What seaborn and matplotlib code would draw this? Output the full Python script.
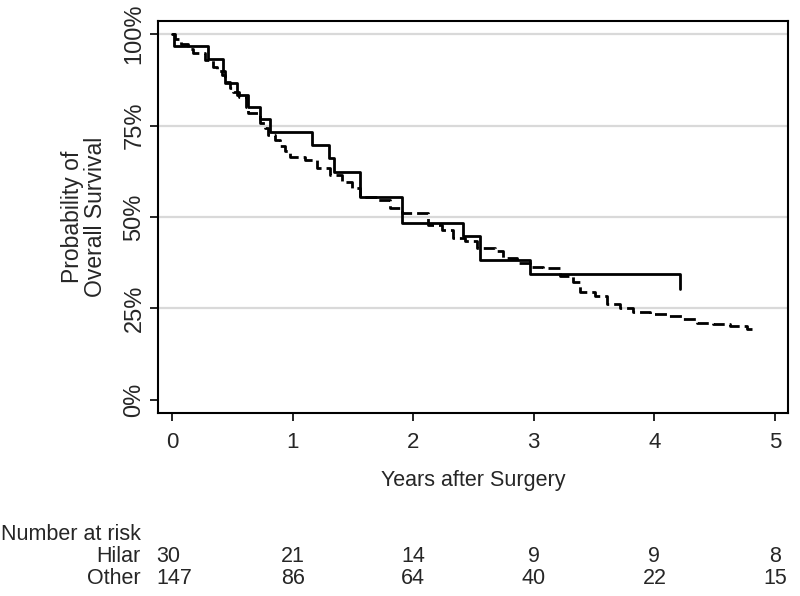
import matplotlib
matplotlib.use("Agg")
import matplotlib.pyplot as plt
import matplotlib.transforms as mtransforms
import seaborn as sns
import pandas as pd

# ---- data ----
hilar_time = [0, 0.02, 0.30, 0.42, 0.44, 0.54, 0.63, 0.73, 0.81, 1.16, 1.30, 1.34,
              1.56, 1.91, 2.41, 2.55, 2.97, 4.21]
hilar_surv = [100, 96.7, 93.3, 90.0, 86.7, 83.3, 80.0, 76.7, 73.3, 69.6, 66.0, 62.2,
              55.6, 48.4, 44.9, 38.3, 34.4, 30.3]

other_time = [0, 0.025, 0.072, 0.135, 0.177, 0.274, 0.342, 0.371, 0.412, 0.439, 0.481,
              0.508, 0.558, 0.614, 0.633, 0.730, 0.771, 0.799, 0.854, 0.896, 0.94,
              0.978, 1.103, 1.200, 1.310, 1.407, 1.490, 1.559, 1.697, 1.808, 1.905,
              2.125, 2.236, 2.333, 2.430, 2.527, 2.678, 2.747, 2.858, 2.968, 3.076,
              3.217, 3.328, 3.383, 3.507, 3.604, 3.715, 3.825, 3.964, 4.102, 4.240,
              4.351, 4.488, 4.627, 4.765, 4.81]
other_surv = [100, 98.6, 97.3, 96.0, 94.8, 93.0, 91.1, 89.8, 88.9, 87.0, 85.2,
              84.3, 82.9, 80.2, 78.4, 75.7, 74.3, 72.5, 71.1, 69.5, 68.0,
              66.5, 65.6, 63.3, 61.5, 59.7, 57.9, 55.6, 54.7, 52.4, 51.0,
              47.9, 46.5, 44.2, 43.3, 41.5, 40.6, 38.7, 37.4, 36.4, 36.0,
              33.9, 32.3, 29.6, 28.3, 26.2, 25.1, 24.1, 23.4, 23.0, 22.1,
              21.1, 20.8, 20.2, 19.3, 19.3]

x_ticks = [0, 1, 2, 3, 4, 5]
y_ticks = [0, 25, 50, 75, 100]
y_ticklabels = ["0%", "25%", "50%", "75%", "100%"]
risk_groups = ["Hilar", "Other"]
risk_hilar = [30, 21, 14, 9, 9, 8]
risk_other = [147, 86, 64, 40, 22, 15]

# ---- style ----
sns.set_theme(style="white")
plt.rcParams["font.family"] = ["Liberation Sans", "DejaVu Sans"]
plt.rcParams["lines.scale_dashes"] = False
FS = 15.5

fig = plt.figure(figsize=(8, 5.96), dpi=100)
ax = fig.add_axes([158 / 800, 1 - 413 / 596, 630 / 800, 392 / 596])

# grid lines
for yv in [25, 50, 75, 100]:
    ax.axhline(yv, color="#d9d9d9", lw=1.6, zorder=0)

df_h = pd.DataFrame({"time": hilar_time, "surv": hilar_surv})
df_o = pd.DataFrame({"time": other_time, "surv": other_surv})

sns.lineplot(data=df_o, x="time", y="surv", ax=ax, estimator=None, sort=False,
             drawstyle="steps-post", color="black", lw=2.0,
             linestyle=(0, (8.6, 3.6)))
sns.lineplot(data=df_h, x="time", y="surv", ax=ax, estimator=None, sort=False,
             drawstyle="steps-post", color="black", lw=2.0)

ax.set_xlim(-0.116, 5.108)
ax.set_ylim(-3.6, 103.6)
ax.set_xticks(x_ticks)
ax.set_xticklabels([str(v) for v in x_ticks], fontsize=16)
ax.set_yticks(y_ticks)
ax.set_yticklabels(y_ticklabels, fontsize=17, rotation=90, va="center")
ax.tick_params(axis="both", direction="out", length=6, width=1.2, color="black",
               bottom=True, left=True)
ax.tick_params(axis="x", pad=8)
ax.tick_params(axis="y", pad=3)
for s in ax.spines.values():
    s.set_visible(True)
    s.set_color("black")
    s.set_linewidth(1.5)

ax.set_xlabel("Years after Surgery", fontsize=FS, labelpad=12)
ax.set_ylabel("Probability of\nOverall Survival", fontsize=16.5, labelpad=12,
              linespacing=1.0)

# ---- number at risk table ----
trans = mtransforms.blended_transform_factory(ax.transData, fig.transFigure)
fig.text(1 / 800, 1 - 534 / 596, "Number at risk", fontsize=FS, ha="left", va="center")
rows_y = [1 - 556 / 596, 1 - 579 / 596]
for lab, vals, yy in zip(risk_groups, [risk_hilar, risk_other], rows_y):
    fig.text(141 / 800, yy, lab, fontsize=FS, ha="right", va="center")
    for i, (xv, v) in enumerate(zip(x_ticks, vals)):
        if i == 0:
            fig.text(156 / 800, yy, str(v), fontsize=FS, ha="left", va="center")
        else:
            ax.text(xv, yy, str(v), transform=trans, fontsize=FS, ha="center",
                    va="center", clip_on=False)

fig.savefig("out.png", dpi=100)
